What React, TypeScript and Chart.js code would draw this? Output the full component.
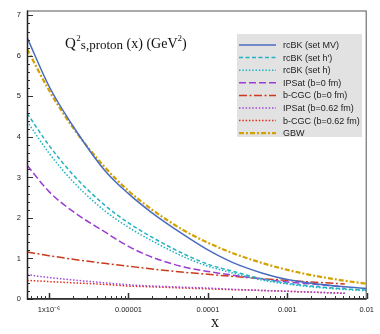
import React, { useEffect, useRef } from "react";
import { Chart, registerables } from "chart.js";

Chart.register(...registerables);

// ---- data ----
const X_VALUES = [5.3e-7, 1e-6, 2e-6, 5e-6, 1e-5, 2e-5, 5e-5, 1e-4, 2e-4, 5e-4, 1e-3, 2e-3, 5.3e-3, 1e-2];
const RCBK_MV = [6.45, 5.25, 4.27, 3.18, 2.6, 2.12, 1.58, 1.21, 0.91, 0.63, 0.48, 0.39, 0.3, 0.26];
const RCBK_HP = [4.58, 3.79, 3.07, 2.32, 1.88, 1.52, 1.11, 0.86, 0.69, 0.49, 0.39, 0.32, 0.25, 0.22];
const RCBK_H = [4.38, 3.6, 2.9, 2.18, 1.77, 1.43, 1.04, 0.81, 0.65, 0.46, 0.37, 0.3, 0.235, 0.205];
const IPSAT_B0 = [3.3, 2.65, 2.16, 1.66, 1.3, 1.03, 0.79, 0.68, 0.59, 0.49, 0.42, 0.37, 0.3, null];
const BCGC_B0 = [1.16, 1.07, 0.98, 0.88, 0.81, 0.74, 0.66, 0.61, 0.56, 0.5, 0.46, 0.42, 0.37, null];
const IPSAT_B062 = [0.6, 0.53, 0.47, 0.4, 0.35, 0.32, 0.29, 0.27, 0.24, 0.21, 0.19, 0.17, 0.14, null];
const BCGC_B062 = [0.46, 0.43, 0.4, 0.36, 0.32, 0.3, 0.27, 0.25, 0.23, 0.21, 0.19, 0.17, 0.14, null];
const GBW = [6.17, 5.15, 4.23, 3.26, 2.67, 2.2, 1.69, 1.39, 1.14, 0.88, 0.72, 0.59, 0.45, 0.375];

const SERIES_LABELS = [
  "rcBK (set MV)",
  "rcBK (set h')",
  "rcBK (set h)",
  "IPSat (b=0 fm)",
  "b-CGC (b=0 fm)",
  "IPSat (b=0.62 fm)",
  "b-CGC (b=0.62 fm)",
  "GBW",
];

const X_MIN = 5.28e-7;
const X_MAX = 1e-2;
const Y_MIN = 0;
const Y_MAX = 7.12;

const X_LABEL_VALUES = [1e-6, 1e-5, 1e-4, 1e-3, 1e-2];
const X_LABELS = ["1x10\u207B\u2076", "0.00001", "0.0001", "0.001", "0.01"];
const Y_LABELS = [0, 1, 2, 3, 4, 5, 6, 7];

const TITLE_PARTS = ["Q", "2", "s,proton", " (x) (GeV", "2", ")"];
const X_TITLE = "x";

// ---- helpers ----
function buildXTicks(): number[] {
  const out: number[] = [];
  for (let e = -7; e <= -2; e++) {
    for (let m = 1; m <= 9; m++) {
      const v = m * Math.pow(10, e);
      if (v >= X_MIN * 0.999 && v <= X_MAX * 1.001) out.push(v);
      if (e === -2) break;
    }
  }
  return out;
}
function buildYTicks(): number[] {
  const out: number[] = [];
  for (let i = 0; i < Y_LABELS.length; i++) {
    out.push(Y_LABELS[i]);
    if (i < Y_LABELS.length - 1) {
      for (let k = 1; k < 5; k++) out.push(Y_LABELS[i] + k * 0.2);
    }
  }
  return out;
}
function xLabelFor(v: number): string {
  for (let i = 0; i < X_LABEL_VALUES.length; i++) {
    if (Math.abs(Math.log10(v) - Math.log10(X_LABEL_VALUES[i])) < 1e-6) return X_LABELS[i];
  }
  return "";
}
function isYMajor(v: number) {
  return Math.abs(v - Math.round(v)) < 1e-6;
}

const pts = (ys: (number | null)[]) => X_VALUES.map((x, i) => ({ x, y: ys[i] }));

const overlayPlugin = {
  id: "overlay",
  afterDatasetsDraw(chart: any) {
    const ctx: CanvasRenderingContext2D = chart.ctx;
    const area = chart.chartArea;
    const xs = chart.scales.x;
    const ys = chart.scales.y;
    ctx.save();

    // inward tick marks
    ctx.strokeStyle = "#333";
    ctx.lineWidth = 1;
    ctx.setLineDash([]);
    ys.ticks.forEach((t: any) => {
      const y = Math.round(ys.getPixelForValue(t.value)) + 0.5;
      const len = isYMajor(t.value) ? 6 : 3;
      ctx.beginPath();
      ctx.moveTo(area.left, y);
      ctx.lineTo(area.left + len, y);
      ctx.stroke();
    });
    xs.ticks.forEach((t: any) => {
      const x = Math.round(xs.getPixelForValue(t.value)) + 0.5;
      const len = xLabelFor(t.value) ? 6 : 3;
      ctx.lineWidth = xLabelFor(t.value) ? 1.5 : 1;
      ctx.beginPath();
      ctx.moveTo(x, area.bottom);
      ctx.lineTo(x, area.bottom - len);
      ctx.stroke();
    });

    // frame
    ctx.lineWidth = 1;
    ctx.strokeStyle = "#555";
    ctx.strokeRect(area.left + 0.5, area.top + 0.5, area.right - area.left - 1, area.bottom - area.top - 1);
    ctx.strokeStyle = "#222";
    ctx.lineWidth = 1.5;
    ctx.beginPath();
    ctx.moveTo(area.left + 0.5, area.top);
    ctx.lineTo(area.left + 0.5, area.bottom);
    ctx.lineTo(area.right, area.bottom);
    ctx.stroke();

    // legend
    const lx = 237, ly = 34, lw = 125, lh = 103;
    ctx.fillStyle = "#e2e2e2";
    ctx.fillRect(lx, ly, lw, lh);
    ctx.font = '9px "Liberation Sans", Arial, sans-serif';
    ctx.textBaseline = "middle";
    ctx.textAlign = "left";
    chart.data.datasets.forEach((ds: any, i: number) => {
      const y = 45 + i * 12.6;
      ctx.strokeStyle = ds.borderColor;
      ctx.lineWidth = ds.borderWidth;
      ctx.setLineDash(ds.borderDash || []);
      ctx.beginPath();
      ctx.moveTo(lx + 2, y);
      ctx.lineTo(lx + 39, y);
      ctx.stroke();
      ctx.setLineDash([]);
      ctx.fillStyle = "#222";
      ctx.fillText(ds.label, lx + 46, y + 0.5);
    });

    // title inside plot
    ctx.fillStyle = "#111";
    ctx.textBaseline = "alphabetic";
    let tx = 65;
    const base = 48;
    ctx.font = '15px "Liberation Serif", "Times New Roman", serif';
    ctx.fillText(TITLE_PARTS[0], tx, base);
    tx += ctx.measureText(TITLE_PARTS[0]).width + 0.5;
    ctx.font = '9px "Liberation Serif", "Times New Roman", serif';
    ctx.fillText(TITLE_PARTS[1], tx, base - 7);
    tx += ctx.measureText(TITLE_PARTS[1]).width;
    ctx.font = '13px "Liberation Serif", "Times New Roman", serif';
    ctx.fillText(TITLE_PARTS[2], tx, base + 1);
    tx += ctx.measureText(TITLE_PARTS[2]).width;
    ctx.font = '14px "Liberation Serif", "Times New Roman", serif';
    ctx.fillText(TITLE_PARTS[3], tx, base);
    tx += ctx.measureText(TITLE_PARTS[3]).width;
    ctx.font = '9px "Liberation Serif", "Times New Roman", serif';
    ctx.fillText(TITLE_PARTS[4], tx, base - 7);
    tx += ctx.measureText(TITLE_PARTS[4]).width;
    ctx.font = '14px "Liberation Serif", "Times New Roman", serif';
    ctx.fillText(TITLE_PARTS[5], tx, base);

    // x axis title
    ctx.font = '16px "Liberation Serif", "Times New Roman", serif';
    ctx.textAlign = "center";
    ctx.textBaseline = "middle";
    ctx.fillText(X_TITLE, 215, 323);

    ctx.restore();
  },
};

export default function App() {
  const ref = useRef<HTMLCanvasElement | null>(null);

  useEffect(() => {
    if (!ref.current) return;
    const tickFont = { family: '"Liberation Sans", Arial, sans-serif', size: 7.5 };
    const chart = new Chart(ref.current, {
      type: "line",
      data: {
        datasets: [
          { label: SERIES_LABELS[0], data: pts(RCBK_MV), borderColor: "#4a6cc0", borderWidth: 1.5, borderDash: [] },
          { label: SERIES_LABELS[1], data: pts(RCBK_HP), borderColor: "#22b2c2", borderWidth: 1.5, borderDash: [4, 2.5] },
          { label: SERIES_LABELS[2], data: pts(RCBK_H), borderColor: "#22b2c2", borderWidth: 1.5, borderDash: [1.5, 1.8] },
          { label: SERIES_LABELS[3], data: pts(IPSAT_B0), borderColor: "#9a3cd4", borderWidth: 1.5, borderDash: [7, 3] },
          { label: SERIES_LABELS[4], data: pts(BCGC_B0), borderColor: "#cc3a1a", borderWidth: 1.5, borderDash: [8, 2.5, 2, 2.5] },
          { label: SERIES_LABELS[5], data: pts(IPSAT_B062), borderColor: "#a048d8", borderWidth: 1.5, borderDash: [1.5, 1.8] },
          { label: SERIES_LABELS[6], data: pts(BCGC_B062), borderColor: "#e0301e", borderWidth: 1.5, borderDash: [1.5, 1.8] },
          { label: SERIES_LABELS[7], data: pts(GBW), borderColor: "#d4a200", borderWidth: 2.2, borderDash: [5, 2, 2, 2] },
        ] as any,
      },
      options: {
        responsive: false,
        animation: false,
        events: [],
        layout: { padding: { top: 5, right: 13, left: 0, bottom: 0 } },
        elements: {
          point: { radius: 0 },
          line: { cubicInterpolationMode: "monotone", fill: false },
        },
        plugins: {
          legend: { display: false },
          tooltip: { enabled: false },
          title: { display: false },
        },
        scales: {
          x: {
            type: "logarithmic",
            min: X_MIN,
            max: X_MAX,
            grid: { display: false, drawTicks: false },
            border: { display: false },
            afterBuildTicks: (s: any) => {
              s.ticks = buildXTicks().map((v) => ({ value: v }));
            },
            afterFit: (s: any) => {
              s.height = 35;
            },
            ticks: {
              autoSkip: false,
              maxRotation: 0,
              minRotation: 0,
              padding: 6,
              color: "#222",
              font: tickFont,
              callback: (v: any) => xLabelFor(Number(v)),
            },
          },
          y: {
            type: "linear",
            min: Y_MIN,
            max: Y_MAX,
            grid: { display: false, drawTicks: false },
            border: { display: false },
            afterBuildTicks: (s: any) => {
              s.ticks = buildYTicks().map((v) => ({ value: v }));
            },
            afterFit: (s: any) => {
              s.width = 27;
            },
            ticks: {
              autoSkip: false,
              padding: 6,
              color: "#222",
              font: tickFont,
              callback: (v: any) => (isYMajor(Number(v)) ? String(Math.round(Number(v))) : ""),
            },
          },
        },
      } as any,
      plugins: [overlayPlugin],
    });
    return () => chart.destroy();
  }, []);

  return (
    <div style={{ position: "fixed", left: 0, top: 0, width: 380, height: 334, background: "#fff" }}>
      <canvas ref={ref} width={380} height={334} style={{ display: "block", width: 380, height: 334 }} />
    </div>
  );
}
